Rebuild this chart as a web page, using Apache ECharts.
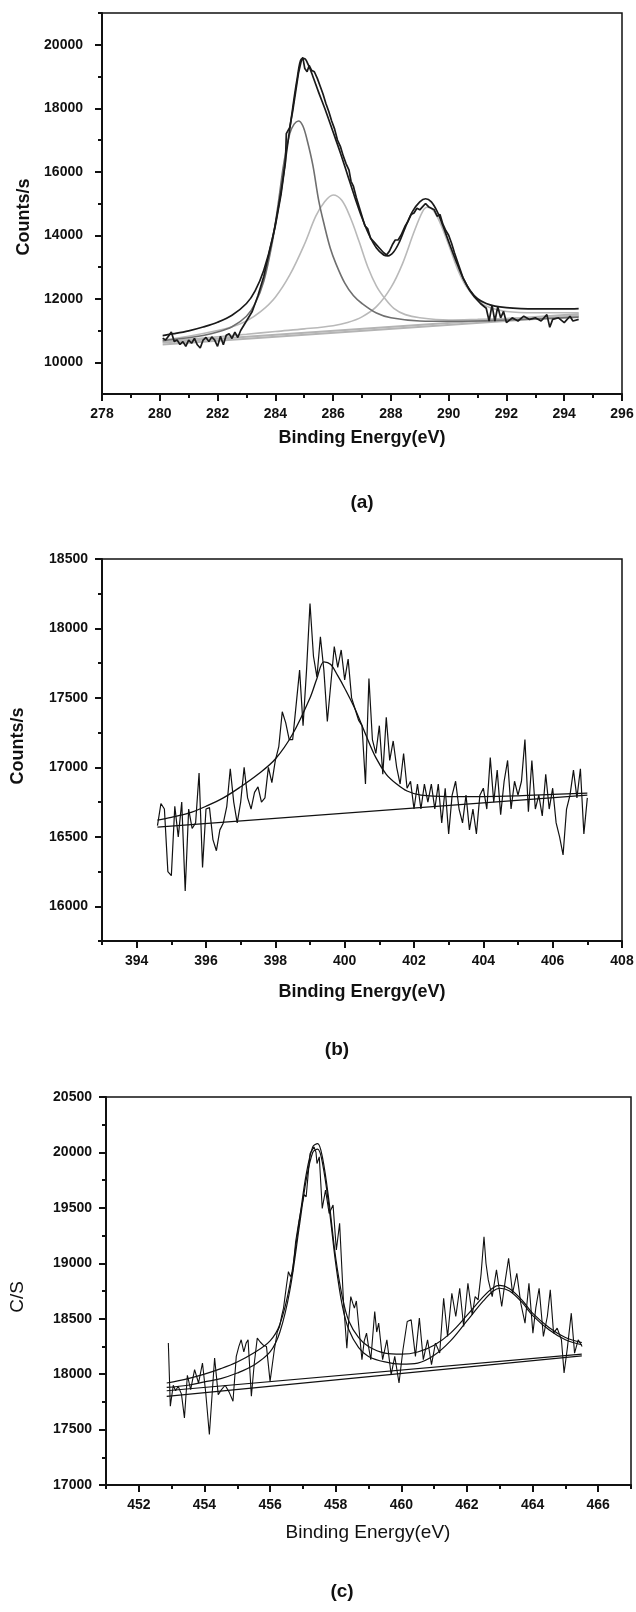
<!DOCTYPE html>
<html><head><meta charset="utf-8">
<script src="https://cdn.jsdelivr.net/npm/echarts@6/dist/echarts.min.js"></script>
<style>html,body{margin:0;padding:0;background:#fff}#c{width:636px;height:1612px}</style>
</head><body><div id="c"></div>
<script>
// ---------- panel (a) ----------
const aXMajor = [278,280,282,284,286,288,290,292,294,296];
const aXMinor = [279,281,283,285,287,289,291,293,295];
const aYMajor = [10000,12000,14000,16000,18000,20000];
const aYMinor = [11000,13000,15000,17000,19000,21000];
const aRaw = [[280.1,10760],[280.2,10700],[280.3,10820],[280.4,10950],[280.5,10650],[280.6,10700],[280.7,10560],[280.8,10650],[280.9,10500],[281.0,10700],[281.1,10600],[281.2,10750],[281.3,10550],[281.4,10450],[281.5,10700],[281.6,10780],[281.7,10650],[281.8,10800],[281.9,10700],[282.0,10500],[282.1,10820],[282.2,10550],[282.3,10850],[282.4,10900],[282.5,10750],[282.6,10950],[282.7,10780],[282.8,11000],[282.9,11150],[283.0,11300],[283.2,11600],[283.4,12100],[283.6,12700],[283.8,13500],[284.0,14300],[284.2,15300],[284.35,16300],[284.38,17200],[284.5,17400],[284.6,17900],[284.7,18500],[284.8,19100],[284.9,19500],[284.95,19600],[285.02,19250],[285.1,19150],[285.17,19350],[285.25,19200],[285.35,19150],[285.45,18950],[285.55,18700],[285.65,18450],[285.75,18150],[285.85,17900],[285.95,17600],[286.05,17350],[286.15,17000],[286.25,16800],[286.35,16500],[286.45,16250],[286.55,16050],[286.62,15700],[286.7,15550],[286.8,15200],[286.9,14900],[287.0,14600],[287.1,14300],[287.2,14200],[287.3,13900],[287.45,13750],[287.6,13600],[287.75,13450],[287.85,13380],[287.95,13500],[288.05,13700],[288.15,13850],[288.25,13850],[288.35,14000],[288.5,14300],[288.6,14450],[288.7,14650],[288.8,14700],[288.9,14850],[289.0,14800],[289.1,14900],[289.2,15000],[289.3,14900],[289.4,14850],[289.5,14800],[289.6,14600],[289.7,14650],[289.8,14350],[289.9,14150],[290.0,14000],[290.1,13750],[290.2,13450],[290.35,13050],[290.5,12650],[290.7,12300],[290.9,12050],[291.1,11850],[291.3,11700],[291.4,11300],[291.5,11800],[291.6,11300],[291.7,11750],[291.8,11400],[291.9,11600],[292.0,11250],[292.2,11400],[292.4,11300],[292.6,11450],[292.8,11350],[293.0,11400],[293.2,11300],[293.4,11500],[293.5,11100],[293.6,11350],[293.8,11400],[294.0,11250],[294.2,11450],[294.3,11300],[294.5,11350]];
const aEnv = [[280.1,10840],[280.5,10900],[281,10990],[281.5,11110],[282,11260],[282.5,11480],[283,11850],[283.3,12250],[283.6,12900],[283.9,13900],[284.2,15400],[284.4,16700],[284.6,18000],[284.75,18900],[284.9,19550],[285.0,19560],[285.15,19350],[285.3,19000],[285.5,18500],[285.75,17900],[286.0,17250],[286.25,16600],[286.5,15900],[286.75,15200],[287.0,14550],[287.25,14000],[287.5,13600],[287.75,13380],[287.9,13350],[288.1,13480],[288.3,13800],[288.5,14250],[288.75,14750],[289.0,15050],[289.2,15150],[289.4,15050],[289.6,14750],[289.8,14300],[290.0,13800],[290.25,13200],[290.5,12650],[290.75,12250],[291.0,12000],[291.3,11850],[291.6,11770],[292,11720],[292.5,11690],[293,11680],[293.5,11680],[294,11680],[294.5,11690]];
const aPeak1 = [[280.1,10680],[281,10770],[281.5,10840],[282,10950],[282.5,11120],[283,11450],[283.3,11850],[283.6,12550],[283.9,13800],[284.1,15000],[284.3,16300],[284.5,17200],[284.65,17500],[284.8,17600],[284.95,17450],[285.1,17000],[285.3,16200],[285.5,15100],[285.7,14300],[285.9,13600],[286.1,13100],[286.4,12500],[286.7,12100],[287.0,11850],[287.5,11550],[288,11400],[289,11300],[290,11290],[291,11300],[292,11330],[293,11360],[294.5,11420]];
const aPeak2 = [[280.1,10700],[281,10820],[282,11000],[282.5,11120],[283,11300],[283.5,11600],[284,12050],[284.5,12750],[285,13700],[285.4,14600],[285.7,15050],[286.0,15270],[286.3,15100],[286.6,14550],[286.9,13800],[287.2,13000],[287.5,12400],[287.8,12000],[288.1,11700],[288.5,11500],[289,11400],[290,11330],[291,11350],[292,11380],[293,11410],[294.5,11470]];
const aPeak3 = [[280.1,10640],[281,10720],[282,10800],[283,10880],[284,10970],[285,11050],[286,11150],[286.5,11250],[287,11430],[287.5,11750],[288,12350],[288.4,13100],[288.8,14100],[289.1,14750],[289.25,14880],[289.45,14800],[289.7,14400],[290.0,13700],[290.3,12950],[290.6,12400],[291.0,11950],[291.4,11730],[292,11600],[293,11560],[294.5,11560]];
const aBase1 = [[280.1,10620],[294.5,11520]];
const aBase2 = [[280.1,10560],[294.5,11460]];

// ---------- panel (b) ----------
const bXMajor = [394,396,398,400,402,404,406,408];
const bXMinor = [393,395,397,399,401,403,405,407];
const bYMajor = [16000,16500,17000,17500,18000,18500];
const bYMinor = [15750,16250,16750,17250,17750,18250];
const bRaw = [[394.6,16580],[394.7,16740],[394.8,16700],[394.9,16250],[395.0,16220],[395.1,16720],[395.2,16500],[395.3,16750],[395.4,16110],[395.5,16700],[395.6,16560],[395.7,16600],[395.8,16960],[395.9,16280],[396.0,16700],[396.1,16710],[396.2,16480],[396.3,16400],[396.4,16550],[396.5,16600],[396.6,16720],[396.7,16990],[396.8,16750],[396.9,16600],[397.0,16750],[397.1,17000],[397.2,16780],[397.3,16700],[397.4,16820],[397.5,16860],[397.6,16750],[397.7,16780],[397.8,17000],[397.9,16890],[398.0,17050],[398.1,17150],[398.2,17400],[398.3,17320],[398.4,17200],[398.5,17200],[398.6,17450],[398.7,17700],[398.8,17300],[398.9,17700],[399.0,18180],[399.1,17800],[399.2,17650],[399.3,17940],[399.4,17700],[399.5,17330],[399.6,17600],[399.7,17870],[399.8,17720],[399.9,17845],[400.0,17630],[400.1,17780],[400.2,17500],[400.3,17420],[400.4,17340],[400.5,17300],[400.6,16880],[400.7,17640],[400.8,17200],[400.9,17100],[401.0,17300],[401.1,16950],[401.2,17360],[401.3,17050],[401.4,17190],[401.5,17000],[401.6,16880],[401.7,17100],[401.8,16850],[401.9,16900],[402.0,16700],[402.1,16880],[402.2,16700],[402.3,16880],[402.4,16750],[402.5,16880],[402.6,16700],[402.7,16880],[402.8,16600],[402.9,16850],[403.0,16520],[403.1,16800],[403.2,16900],[403.3,16700],[403.4,16600],[403.5,16800],[403.6,16550],[403.7,16700],[403.8,16520],[403.9,16800],[404.0,16850],[404.1,16700],[404.2,17070],[404.3,16750],[404.4,16980],[404.5,16660],[404.6,16900],[404.7,17050],[404.8,16700],[404.9,16900],[405.0,16800],[405.1,16900],[405.2,17200],[405.3,16680],[405.4,17050],[405.5,16700],[405.6,16800],[405.7,16650],[405.8,16950],[405.9,16700],[406.0,16850],[406.1,16600],[406.2,16500],[406.3,16370],[406.4,16700],[406.5,16800],[406.6,16980],[406.7,16780],[406.8,16990],[406.9,16520],[407.0,16780]];
const bFit = [[394.6,16620],[395,16640],[395.5,16670],[396,16720],[396.5,16780],[397,16860],[397.5,16950],[398,17060],[398.5,17240],[399,17500],[399.2,17640],[399.4,17760],[399.6,17740],[399.8,17660],[400,17570],[400.3,17420],[400.6,17240],[400.9,17070],[401.2,16950],[401.5,16880],[401.8,16830],[402.2,16800],[403,16790],[404,16790],[405,16795],[406,16805],[407,16815]];
const bBase = [[394.6,16570],[407,16800]];

// ---------- panel (c) ----------
const cXMajor = [452,454,456,458,460,462,464,466];
const cXMinor = [451,453,455,457,459,461,463,465,467];
const cYMajor = [17000,17500,18000,18500,19000,19500,20000,20500];
const cYMinor = [17250,17750,18250,18750,19250,19750,20250];
const cRaw = [[452.9,18280],[452.96,17710],[453.05,17900],[453.12,17850],[453.2,17890],[453.3,17820],[453.39,17605],[453.48,17990],[453.58,17860],[453.7,18040],[453.82,17920],[453.94,18100],[454.04,17830],[454.15,17455],[454.31,18145],[454.42,17815],[454.52,17860],[454.63,17900],[454.75,17840],[454.87,17755],[454.97,18160],[455.05,18250],[455.12,18310],[455.2,18200],[455.27,18280],[455.33,18310],[455.43,17800],[455.52,18100],[455.61,18325],[455.7,18290],[455.8,18260],[455.89,18250],[456.0,17935],[456.13,18220],[456.22,18380],[456.29,18430],[456.35,18520],[456.41,18595],[456.5,18800],[456.56,18925],[456.62,18880],[456.69,18925],[456.78,19195],[456.88,19380],[456.97,19525],[457.04,19620],[457.1,19600],[457.16,19800],[457.22,19990],[457.28,20000],[457.34,20050],[457.4,20000],[457.43,19900],[457.5,19960],[457.59,19495],[457.69,19660],[457.8,19450],[457.92,19525],[458.02,19120],[458.12,19360],[458.24,18640],[458.34,18235],[458.4,18500],[458.46,18700],[458.52,18640],[458.57,18595],[458.63,18660],[458.69,18670],[458.8,18130],[458.87,18300],[458.94,18370],[459.0,18250],[459.07,18130],[459.19,18565],[459.25,18380],[459.31,18460],[459.43,18130],[459.56,18310],[459.69,17995],[459.8,18160],[459.93,17920],[460.05,18220],[460.18,18475],[460.3,18490],[460.43,18160],[460.55,18505],[460.67,18130],[460.8,18310],[460.92,18085],[461.04,18280],[461.17,18190],[461.29,18685],[461.41,18340],[461.54,18730],[461.66,18520],[461.78,18775],[461.9,18430],[462.03,18820],[462.16,18535],[462.25,18700],[462.34,18670],[462.43,18900],[462.52,19240],[462.58,19000],[462.65,18850],[462.77,18700],[462.9,18940],[463.06,18610],[463.17,18850],[463.27,19045],[463.39,18730],[463.52,18910],[463.64,18640],[463.77,18460],[463.89,18820],[464.01,18370],[464.1,18600],[464.2,18775],[464.33,18340],[464.45,18520],[464.54,18760],[464.64,18370],[464.75,18415],[464.88,18310],[464.96,18010],[465.06,18235],[465.18,18550],[465.28,18190],[465.39,18310],[465.51,18250]];
const cEnv1 = [[452.85,17920],[453.5,17960],[454,18000],[454.5,18050],[455,18110],[455.5,18190],[456,18300],[456.3,18450],[456.6,18800],[456.9,19400],[457.1,19800],[457.3,20050],[457.45,20080],[457.6,19950],[457.8,19550],[458.0,19050],[458.2,18700],[458.4,18480],[458.7,18330],[459.0,18250],[459.5,18190],[460.0,18180],[460.5,18200],[461.0,18260],[461.5,18370],[462.0,18530],[462.5,18700],[462.8,18780],[463.0,18800],[463.3,18770],[463.7,18660],[464.0,18550],[464.5,18420],[465.0,18330],[465.5,18285]];
const cEnv2 = [[452.85,17880],[453.5,17900],[454,17930],[454.5,17960],[455,18010],[455.5,18080],[456,18200],[456.3,18380],[456.6,18750],[456.9,19350],[457.1,19750],[457.3,20000],[457.45,20030],[457.6,19900],[457.8,19500],[458.0,19000],[458.2,18620],[458.4,18400],[458.7,18240],[459.0,18160],[459.5,18110],[460.0,18090],[460.5,18100],[461.0,18170],[461.5,18300],[462.0,18480],[462.5,18660],[462.8,18750],[463.0,18775],[463.3,18750],[463.7,18640],[464.0,18530],[464.5,18400],[465.0,18310],[465.5,18265]];
const cBase1 = [[452.85,17850],[465.5,18180]];
const cBase2 = [[452.85,17800],[465.5,18165]];

// ---------- build ----------
const INK = '#111';
const FONT = '"Liberation Sans", Arial, sans-serif';

function makeAxes(dim, gi, min, max, major, minor, margin) {
  const pos = dim === 'x' ? 'bottom' : 'left';
  return [
    {type:'value', gridIndex:gi, min:min, max:max, position:pos,
     axisLine:{show:true, onZero:false, lineStyle:{color:INK, width:2}},
     axisTick:{show:true, inside:false, length:7, customValues:major, lineStyle:{color:INK, width:2}},
     axisLabel:{show:true, customValues:major, margin:margin, color:INK, fontFamily:FONT, fontWeight:'bold', fontSize:14, showMinLabel:true, showMaxLabel:true,
       formatter: function (v) { return String(v); }},
     splitLine:{show:false}},
    {type:'value', gridIndex:gi, min:min, max:max, position:pos,
     axisLine:{show:false, onZero:false},
     axisTick:{show:true, inside:false, length:4, customValues:minor, lineStyle:{color:INK, width:2}},
     axisLabel:{show:false},
     splitLine:{show:false}}
  ];
}

const xAxes = [].concat(
  makeAxes('x', 0, 278, 296, aXMajor, aXMinor, 13),
  makeAxes('x', 1, 393, 408, bXMajor, bXMinor, 13),
  makeAxes('x', 2, 451, 467, cXMajor, cXMinor, 13)
);
const yAxes = [].concat(
  makeAxes('y', 0, 9000, 21000, aYMajor, aYMinor, 19),
  makeAxes('y', 1, 15750, 18500, bYMajor, bYMinor, 14),
  makeAxes('y', 2, 17000, 20500, cYMajor, cYMinor, 14)
);

function line(axis, data, color, width, smooth, z) {
  return {type:'line', xAxisIndex:axis, yAxisIndex:axis, data:data, showSymbol:false, symbol:'none',
    smooth:smooth, lineStyle:{color:color, width:width}, z:z, silent:true};
}

const series = [
  line(0, aBase1, '#b4b4b4', 2, false, 2),
  line(0, aBase2, '#b4b4b4', 2, false, 2),
  line(0, aPeak3, '#b9b9b9', 1.6, 0.35, 3),
  line(0, aPeak2, '#b9b9b9', 1.6, 0.35, 3),
  line(0, aPeak1, '#6f6f6f', 1.6, 0.35, 4),
  line(0, aRaw, '#1a1a1a', 1.7, false, 5),
  line(0, aEnv, '#1a1a1a', 1.7, 0.35, 6),
  line(2, bBase, INK, 1.3, false, 3),
  line(2, bFit, INK, 1.3, 0.35, 4),
  line(2, bRaw, INK, 1.2, false, 5),
  line(4, cBase1, INK, 1.2, false, 3),
  line(4, cBase2, INK, 1.2, false, 3),
  line(4, cEnv1, INK, 1.2, 0.35, 4),
  line(4, cEnv2, INK, 1.2, 0.35, 4),
  line(4, cRaw, INK, 1.1, false, 5)
];

function txt(x, y, s, size, weight, rot) {
  return {type:'text', x:x, y:y, rotation: rot ? Math.PI/2 : 0, silent:true,
    style:{text:s, fill:INK, font: weight + ' ' + size + 'px ' + FONT, textAlign:'center', textVerticalAlign:'middle'}};
}

const grids = [
  {left:102, top:13, width:520, height:381},
  {left:102, top:559, width:520, height:382},
  {left:106, top:1097, width:525, height:388}
].map(g => Object.assign(g, {show:true, borderColor:INK, borderWidth:1.5, backgroundColor:'transparent', containLabel:false, outerBoundsMode:'none'}));

const chart = echarts.init(document.getElementById('c'), null, {renderer:'canvas', width:636, height:1612});
chart.setOption({
  animation:false,
  backgroundColor:'#fff',
  grid: grids,
  xAxis: xAxes,
  yAxis: yAxes,
  series: series,
  graphic: [
    txt(24, 217, 'Counts/s', 18, 'bold', true),
    txt(362, 438, 'Binding Energy(eV)', 18, 'bold', false),
    txt(362, 503, '(a)', 19, 'bold', false),
    txt(18, 746, 'Counts/s', 18, 'bold', true),
    txt(362, 992, 'Binding Energy(eV)', 18, 'bold', false),
    txt(337, 1050, '(b)', 19, 'bold', false),
    txt(18, 1297, 'C/S', 19, 'normal', true),
    txt(368, 1533, 'Binding Energy(eV)', 19, 'normal', false),
    txt(342, 1592, '(c)', 19, 'bold', false)
  ]
});
</script>
</body></html>
